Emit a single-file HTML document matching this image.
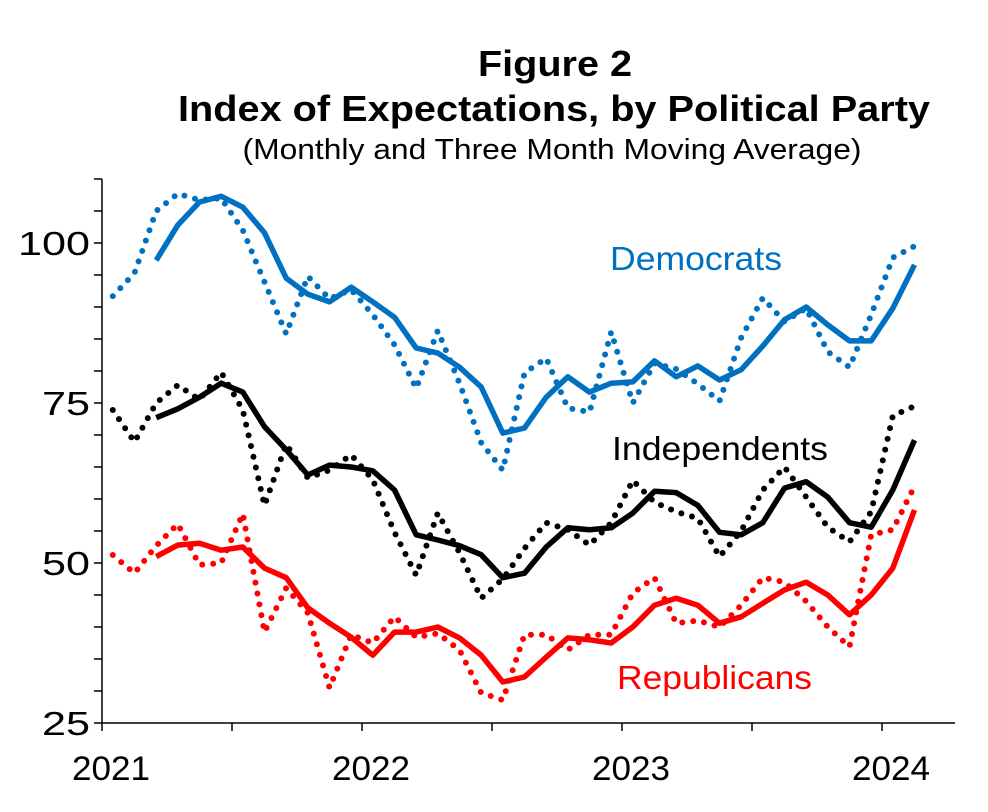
<!DOCTYPE html>
<html><head><meta charset="utf-8"><style>
body{margin:0;background:#fff;}
svg{display:block;font-family:"Liberation Sans",Arial,sans-serif;}
</style></head><body>
<svg id="chart" width="988" height="812" viewBox="0 0 988 812" xmlns="http://www.w3.org/2000/svg">
<text x="555" y="76" text-anchor="middle" font-size="36" font-weight="bold" textLength="154" lengthAdjust="spacingAndGlyphs">Figure 2</text>
<text x="554" y="121" text-anchor="middle" font-size="36" font-weight="bold" textLength="752" lengthAdjust="spacingAndGlyphs">Index of Expectations, by Political Party</text>
<text x="552" y="159" text-anchor="middle" font-size="29" textLength="619" lengthAdjust="spacingAndGlyphs">(Monthly and Three Month Moving Average)</text>
<g id="axes"></g>
<g id="series"></g>
<text x="610" y="270" font-size="33" fill="#0070C0" textLength="172" lengthAdjust="spacingAndGlyphs">Democrats</text>
<text x="612" y="460" font-size="33" fill="#000" textLength="216" lengthAdjust="spacingAndGlyphs">Independents</text>
<text x="617" y="689" font-size="33" fill="#FF0000" textLength="195" lengthAdjust="spacingAndGlyphs">Republicans</text>
</svg>
<script>
const yTicks=[25,50,75,100];
const xYears=["2021","2022","2023","2024"];
const demMonthly=[91.7,95.3,105,107.7,106.7,107,102,93.9,85.8,94.8,91.3,92.7,88.8,84.1,77.3,86.3,78.1,68.8,64.5,79.7,82.0,74.2,73.6,86.1,75.0,81.2,80.3,78,75.3,85.2,91.4,87.7,89.8,83,80.6,88.8,97.7,99.5];
const demAvg=[97.3,102.8,106.4,107.3,105.6,101.6,94.5,92.0,90.8,93.1,90.8,88.4,83.6,82.8,80.6,77.5,70.3,71.1,75.9,79.1,76.7,78.1,78.3,81.6,79.1,80.8,78.6,80.2,83.9,88.0,90.0,87.2,84.7,84.7,89.8,96.6];
const indMonthly=[73.9,68.9,75,77.8,75.5,79.8,73.9,59,68.6,63.3,64.5,66.9,63,54.8,48.1,57.8,51.6,44.5,47.5,52.3,56.3,55.2,52.8,56.3,62.9,59.5,58,57,51,55,61.4,65,60.3,55.6,53.3,58,73,74.5];
const indAvg=[72.7,74.1,75.9,78.1,76.7,71.3,67.7,63.75,65.3,65,64.4,61.4,54.4,53.6,52.7,51.3,47.7,48.4,52.5,55.5,55.2,55.5,57.8,61.2,61.0,59,54.8,54.4,56.3,61.7,62.7,60.3,56.3,55.6,61.4,69.2];
const repMonthly=[51.25,48.4,52.7,56.1,49.7,50,57.7,39.2,46.1,42.2,30.5,38.8,37.5,41.6,38.4,39,36.4,29.7,28.6,38.8,38.8,36.4,38.8,38.8,45.3,47.7,40.6,41,40,43.4,47.7,47,44,40,36.9,54.4,55.2,62];
const repAvg=[51,52.8,53.1,52,52.5,49.2,47.7,43,40.6,38.4,35.6,39.2,39.2,40,38.3,35.6,31.4,32.2,35.3,38.3,38,37.5,40,43.4,44.5,43.4,40.6,41.6,43.7,45.8,47,45,41.9,45,49.2,58.3];

const NS="http://www.w3.org/2000/svg";
const x0=102, yearW=260, monthW=yearW/12;
function xm(i){return x0+monthW*(i+0.5);}
function yv(v){return 563-(v-50)*6.4;}
const axes=document.getElementById('axes');
const series=document.getElementById('series');
function mk(tag,attrs,parent){const e=document.createElementNS(NS,tag);for(const k in attrs)e.setAttribute(k,attrs[k]);parent.appendChild(e);return e;}

let e=mk('line',{x1:x0,y1:179,x2:x0,y2:723,stroke:'#000','stroke-width':1.5},axes);


e=mk('line',{x1:x0,y1:723,x2:955,y2:723,stroke:'#000','stroke-width':1.5},axes);


for(let v=25;v<=110;v+=5){
  e=mk('line',{x1:x0-8,y1:yv(v),x2:x0,y2:yv(v),stroke:'#000','stroke-width':1.5},axes);
  
  
}
yTicks.forEach(v=>{
  const s=String(v);
  const t=mk('text',{x:90,y:yv(v)+12,'text-anchor':'end','font-size':33,textLength:s.length*24,lengthAdjust:'spacingAndGlyphs'},axes);
  t.textContent=s;
  
  
});
for(let h=0;h<=7;h++){
  e=mk('line',{x1:x0+h*yearW/2,y1:723,x2:x0+h*yearW/2,y2:731,stroke:'#000','stroke-width':1.5},axes);
  
  
}
xYears.forEach((s,i)=>{
  const t=mk('text',{x:x0+9+i*yearW,y:780,'text-anchor':'middle','font-size':34,textLength:78,lengthAdjust:'spacingAndGlyphs'},axes);
  t.textContent=s;
  
  
});
function path(vals,off){return vals.map((v,i)=>(i?'L':'M')+xm(i+off).toFixed(1)+' '+yv(v).toFixed(1)).join(' ');}
function drawSeries(monthly,avg,color,name){
  let p=mk('path',{d:path(monthly,0),fill:'none',stroke:color,'stroke-width':6,'stroke-linecap':'round','stroke-dasharray':'0 11'},series);
  
  
  p=mk('path',{d:path(avg,2),fill:'none',stroke:color,'stroke-width':5.5,'stroke-linejoin':'round'},series);
  
  
}
drawSeries(demMonthly,demAvg,'#0070C0','democrats');
drawSeries(indMonthly,indAvg,'#000000','independents');
drawSeries(repMonthly,repAvg,'#FF0000','republicans');
</script>
</body></html>
